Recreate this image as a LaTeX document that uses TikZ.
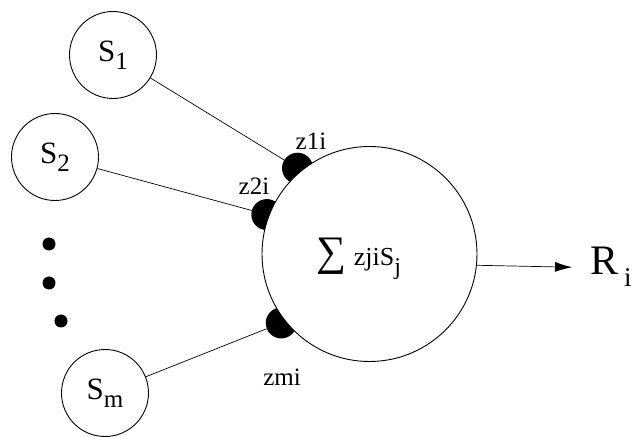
\documentclass[tikz,border=0pt]{standalone}
\usepackage{fontspec}
\setmainfont{Liberation Serif}
\usetikzlibrary{arrows.meta}
\newcommand\lowidx[3][25pt]{\raisebox{-#2}{\fontsize{#1}{#1}\selectfont #3}}
\begin{document}
\begin{tikzpicture}[x=1pt,y=1pt]
\tikzstyle{entree} = [draw,circle,line width=0.9pt,minimum size=87pt,inner sep=0pt,font=\fontsize{31pt}{31pt}\selectfont] %neurones d'entree
\tikzstyle{synapse} = [circle,fill=black,minimum size=31pt,inner sep=0pt] %boutons
\tikzstyle{poids} = [font=\fontsize{25pt}{25pt}\selectfont] %etiquettes
\useasboundingbox (0,0) rectangle (633,437);

%neurones d'entree
\node[entree] (s1) at (113,382) {S\lowidx{8pt}{1}};
\node[entree] (s2) at (55,280) {S\lowidx{8pt}{2}};
\node[entree] (sm) at (105,44) {S\lowidx{8pt}{m}};

%points de suspension
\fill (49,193) circle (6.5);
\fill (49,154) circle (6.5);
\fill (61,116) circle (6.5);

%synapses sur le neurone i
\coordinate (c) at (369.5,183);
\node[synapse] (z1) at ([shift={(130:112)}]c) {};
\node[synapse] (z2) at ([shift={(159:110)}]c) {};
\node[synapse] (zm) at ([shift={(218:112)}]c) {};

\draw[line width=0.7pt] (s1)--(z1);
\draw[line width=0.7pt] (s2)--(z2);
\draw[line width=0.7pt] (sm)--(zm);

%neurone i
\node[draw,circle,fill=white,line width=0.9pt,minimum size=215pt,inner sep=0pt] (sum) at (c) {};
\node[font=\fontsize{26pt}{26pt}\selectfont,inner sep=0pt] (somme) at (359,178) {{\fontsize{42pt}{42pt}\selectfont ∑}\hspace{7pt}zjiS\lowidx[24pt]{9pt}{j}};

\node[poids] (l1) at (311,296) {z1i};
\node[poids] (l2) at (254,251) {z2i};
\node[poids] (lm) at (282,60) {zmi};

%sortie
\node[font=\fontsize{42pt}{42pt}\selectfont,anchor=base west,inner sep=0pt] (r) at (590,162) {R\hspace{6pt}\lowidx[27pt]{12pt}{i}};
\draw[line width=0.7pt,-{Latex[length=17pt,width=10pt]}] (sum.-6) -- ([xshift=-18pt]r.west);
\end{tikzpicture}
\end{document}
